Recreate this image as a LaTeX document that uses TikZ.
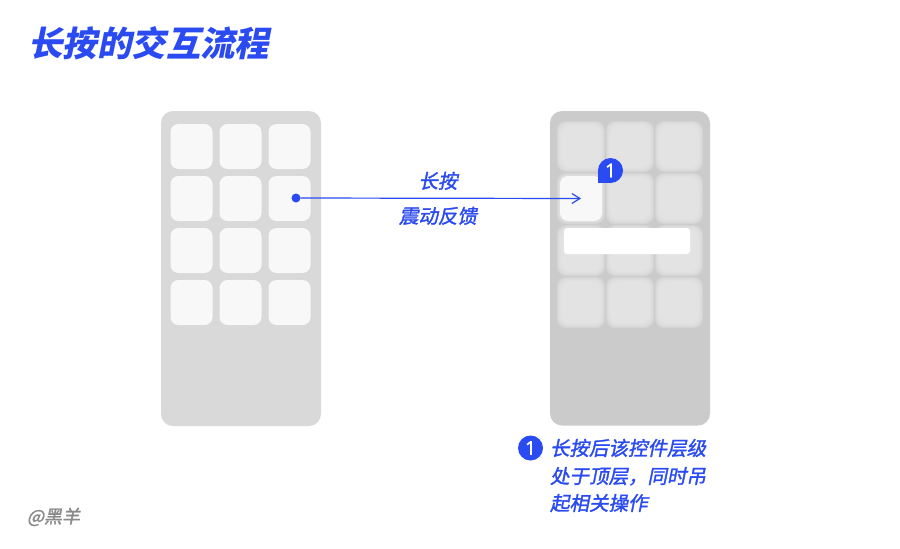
\documentclass[tikz,border=0pt]{standalone}
\usepackage{fontspec}
\newfontfamily\cjk[FakeSlant=0.2]{Noto Sans CJK SC}
\newfontfamily\cjkmed[FakeSlant=0.2,FakeBold=1.6]{Noto Sans CJK SC}
\newfontfamily\numfont[FakeBold=1.2]{Noto Sans}
\usetikzlibrary{arrows.meta,positioning}
\definecolor{keyblue}{HTML}{2A4AF2}
\definecolor{phonegray}{HTML}{D9D9D9}
\definecolor{dimgray}{HTML}{CBCBCB}
\definecolor{iconwhite}{HTML}{F8F8F8}
\definecolor{blurgray}{HTML}{E6E6E6}
\definecolor{markgray}{HTML}{8A8A8A}
\begin{document}
\begin{tikzpicture}[x=1pt,y=-1pt,
	every node/.style={inner sep=0pt,outer sep=0pt},
	phone/.style={rounded corners=12pt},
	icon/.style={rectangle,rounded corners=8pt,fill=iconwhite,minimum width=42pt,minimum height=45pt},
	bluetext/.style={text=keyblue,font=\cjkmed\fontsize{19.5}{20}\selectfont},
	numbadge/.style={circle,fill=keyblue,minimum size=25pt,text=white,font=\numfont\fontsize{19}{19}\selectfont},
	flow/.style={draw=keyblue,line width=1.2pt,-{Straight Barb[length=8pt,width=10pt]}}
	]
  \useasboundingbox[fill=white] (0,0) rectangle (900,549);
  % title
  \node (title) [anchor=base west,text=keyblue,font=\cjk\bfseries\fontsize{34.5}{34.5}\selectfont] at (28,56) {长按的交互流程};
  % left phone
  \fill[phonegray,phone] (161,111) rectangle (321,426);
  \foreach \x/\c in {191.5/a,240.5/b,289.5/c}
    \foreach \y/\r in {146.5/1,198.5/2,250.5/3,302.5/4}
      \node (l\c\r) [icon] at (\x,\y) {};
  \node (dot) [circle,fill=keyblue,minimum size=9pt] at (296,198) {};
  % right phone, blurred
  \fill[dimgray,phone] (550,111) rectangle (710,425.5);
  \foreach \x in {581,630,679}
    \foreach \y in {146.5,198.5,250.5,302.5}
      \foreach \d in {3,2,1,0,-1,-2}
        \fill[blurgray,opacity=0.35,rounded corners=9pt] ({\x-21-\d},{\y-22.5-\d}) rectangle ({\x+21+\d},{\y+22.5+\d});
  \node (lifted) [icon] at (581,198.5) {};
  \node (menu) [rectangle,fill=white,rounded corners=3pt,minimum width=126pt,minimum height=26pt] at (627,241) {};
  \fill[keyblue] (598,170.5) rectangle (610.5,183);
  \node (badge) [numbadge] at (610.5,170.5) {1};
  % long press
  \draw[flow] (dot) -- (lifted.center)
    node (press) [pos=0.49,anchor=base,yshift=10pt,bluetext] {长按}
    node (haptic) [pos=0.49,anchor=base,yshift=-25pt,bluetext] {震动反馈};
  % note
  \node (num) [numbadge] at (530.5,448) {1};
  \node (note1) [anchor=base west,bluetext] at (550,455.4) {长按后该控件层级};
  \node (note2) [anchor=base west,bluetext] at (550,483.4) {处于顶层，同时吊};
  \node (note3) [anchor=base west,bluetext] at (550,510.4) {起相关操作};
  \node (mark) [anchor=base west,text=markgray,font=\cjkmed\fontsize{18}{18}\selectfont] at (27,523) {@黑羊};
\end{tikzpicture}
\end{document}
